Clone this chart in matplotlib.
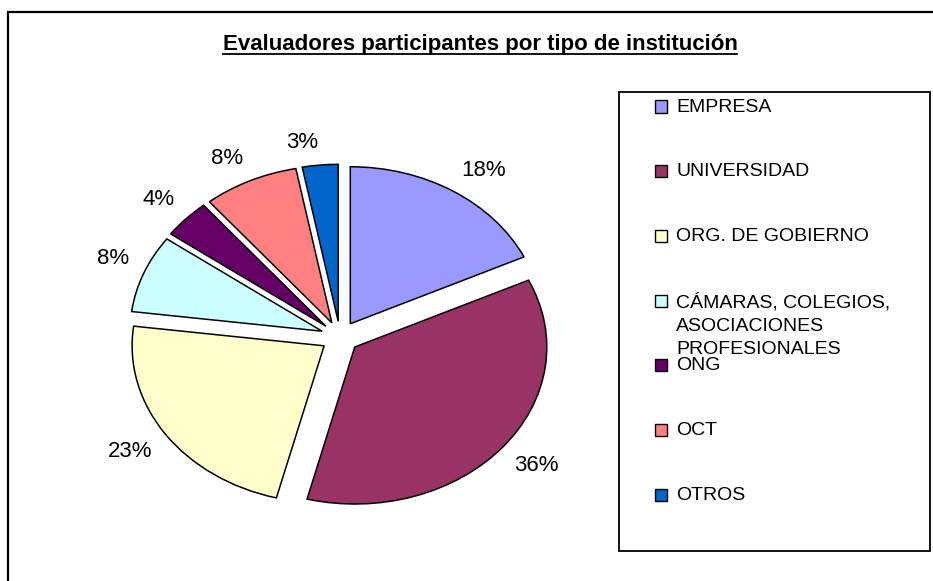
import matplotlib
matplotlib.use("Agg")
import numpy as np
import matplotlib.pyplot as plt
from matplotlib.patches import Rectangle

categories = ["EMPRESA", "UNIVERSIDAD", "ORG. DE GOBIERNO",
              "CÁMARAS, COLEGIOS,\nASOCIACIONES\nPROFESIONALES",
              "ONG", "OCT", "OTROS"]
values = [18, 36, 23, 8, 4, 8, 3]
colors = ["#9999FF", "#993366", "#FFFFCC", "#CCFFFF", "#660066", "#FF8080", "#0066CC"]
title = "Evaluadores participantes por tipo de institución"

W, H = 933, 581
plt.rcParams['font.family'] = ['Liberation Sans', 'DejaVu Sans']
fig = plt.figure(figsize=(W / 100, H / 100), dpi=100)

def fx(px):
    return px / W

def fy(py):
    return 1 - py / H

# outer chart frame
fig.patches.append(Rectangle((fx(8), fy(590)), fx(940 - 8), (590 - 12) / H,
                             transform=fig.transFigure, fill=False,
                             edgecolor="black", linewidth=1.6))

# pie axes: 1 unit x = 192 px, 1 unit y = 157 px, center at (340, 337)
cx, cy, rx, ry, lim = 340, 337, 192, 157, 1.5
ax = fig.add_axes([fx(cx - lim * rx), fy(cy + lim * ry), 2 * lim * rx / W, 2 * lim * ry / H])
wedges, texts, autotexts = ax.pie(
    values, colors=colors, startangle=90, counterclock=False,
    explode=[0.1] * len(values), autopct="%1.0f%%", pctdistance=1.2,
    wedgeprops=dict(edgecolor="black", linewidth=1.1),
    textprops=dict(fontsize=16, color="black"))
# place percentage labels just outside each exploded wedge (corner anchored)
for w, t in zip(wedges, autotexts):
    ang = np.deg2rad((w.theta1 + w.theta2) / 2)
    c, s = np.cos(ang), np.sin(ang)
    t.set_position((1.18 * c, 1.18 * s))
    t.set_ha("left" if c > 0 else "right")
    t.set_va("bottom" if s > 0 else "top")
ax.set_aspect("auto")
ax.set_xlim(-lim, lim)
ax.set_ylim(-lim, lim)
ax.axis("off")

# title (bold, underlined)
tt = fig.text(fx(480), fy(50), title, ha="center", va="baseline", fontsize=16,
              fontweight="bold")
r = fig.canvas.get_renderer()
bb = tt.get_window_extent(renderer=r)
fig.add_artist(plt.Line2D([bb.x0 / W, bb.x1 / W], [fy(53.5), fy(53.5)], color="black",
                          linewidth=1.3, transform=fig.transFigure))

# legend box
lx0, ly0, lx1, ly1 = 619, 92, 930, 551
fig.patches.append(Rectangle((fx(lx0), fy(ly1)), (lx1 - lx0) / W, (ly1 - ly0) / H,
                             transform=fig.transFigure, fill=False,
                             edgecolor="black", linewidth=1.3))
y0, step = 106.5, 64.7
for i, (cat, col) in enumerate(zip(categories, colors)):
    yc = y0 + i * step
    fig.patches.append(Rectangle((fx(655), fy(yc + 6)), 12 / W, 12 / H,
                                 transform=fig.transFigure, facecolor=col,
                                 edgecolor="black", linewidth=1.0))
    fig.text(fx(676), fy(yc - 8), cat, ha="left", va="top", fontsize=14,
             linespacing=1.5)

fig.savefig("out.png", dpi=100)
